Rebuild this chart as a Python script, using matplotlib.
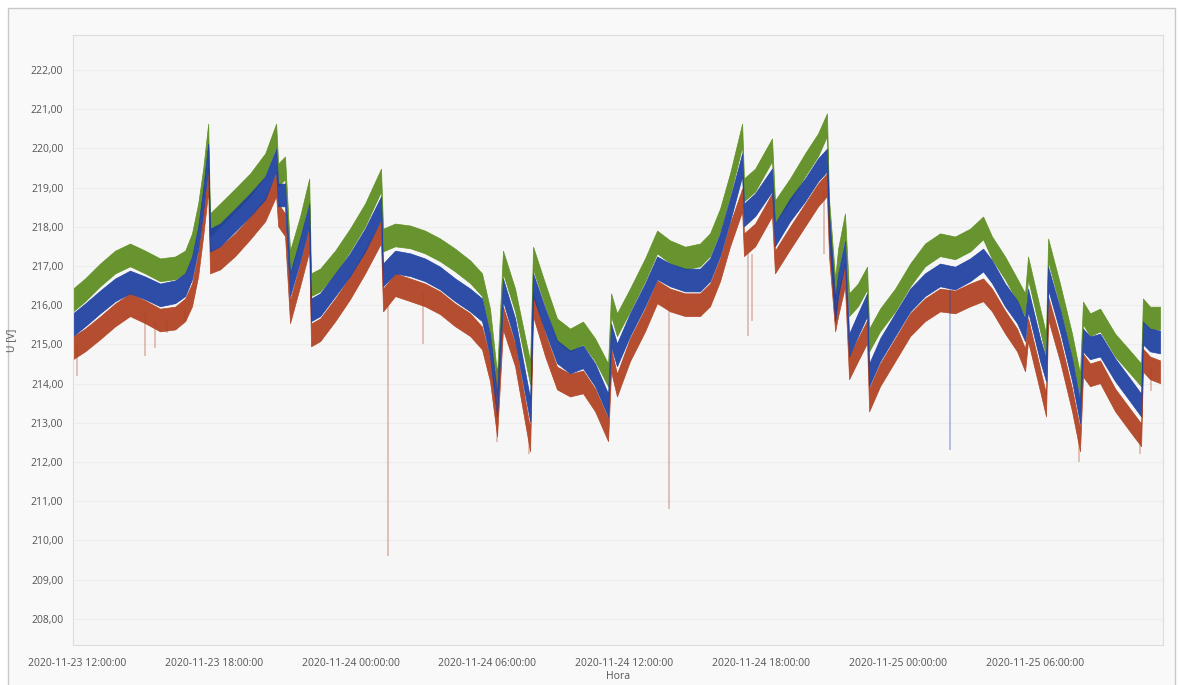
import matplotlib
matplotlib.use('Agg')
import numpy as np
import pandas as pd
import matplotlib.pyplot as plt
import matplotlib.dates as mdates
from matplotlib.patches import Rectangle
from matplotlib.ticker import FuncFormatter, MultipleLocator

# hours after 2020-11-23 12:00
hours = [-0.18, 0.35, 1.01, 1.67, 2.32, 2.98, 3.64, 4.30, 4.74, 5.04, 5.31, 5.53, 5.75, 5.83,
         6.27, 6.93, 7.59, 8.25, 8.73, 8.82, 9.12, 9.34, 9.78, 10.18, 10.26, 10.66, 11.32,
         11.97, 12.63, 13.33, 13.42, 13.95, 14.61, 15.26, 15.92, 16.58, 17.24, 17.76, 18.11,
         18.42, 18.68, 19.21, 19.87, 20.00, 20.53, 21.05, 21.62, 22.19, 22.72, 23.29, 23.42,
         23.68, 24.25, 24.91, 25.44, 26.01, 26.67, 27.32, 27.76, 28.20, 28.64, 29.17, 29.25,
         29.74, 30.48, 30.61, 31.27, 31.93, 32.50, 32.89, 32.98, 33.25, 33.38, 33.68, 33.86,
         34.25, 34.65, 34.74, 35.22, 35.88, 36.54, 37.19, 37.85, 38.51, 39.17, 39.74, 40.13,
         40.70, 41.23, 41.58, 41.71, 42.24, 42.50, 42.59, 43.11, 43.64, 43.99, 44.12, 44.43,
         44.87, 45.53, 46.18, 46.67, 46.75, 47.06, 47.50]

u_green = [216.13, 216.39, 216.77, 217.10, 217.28, 217.10, 216.90, 216.95, 217.10, 217.54, 218.30,
           219.19, 220.34, 218.05, 218.30, 218.68, 219.07, 219.58, 220.34, 219.32, 219.50, 217.10,
           217.97, 218.94, 216.52, 216.64, 217.10, 217.66, 218.30, 219.19, 217.66, 217.79, 217.74,
           217.61, 217.41, 217.15, 216.85, 216.52, 215.62, 213.96, 217.10, 216.13, 214.27, 217.20,
           216.26, 215.37, 215.11, 215.29, 214.86, 214.22, 216.01, 215.50, 216.13, 216.90, 217.61,
           217.36, 217.20, 217.28, 217.54, 218.17, 219.07, 220.34, 218.94, 219.19, 219.96, 218.38,
           218.94, 219.58, 220.09, 220.60, 218.43, 216.39, 217.15, 218.05, 216.01, 216.26, 216.69,
           215.11, 215.62, 216.13, 216.77, 217.28, 217.54, 217.46, 217.66, 217.97, 217.46, 216.95,
           216.39, 216.01, 216.95, 215.62, 214.98, 217.41, 216.26, 214.98, 213.96, 215.80, 215.50,
           215.62, 214.98, 214.55, 214.22, 215.88, 215.67, 215.67]

u_blue = [215.50, 215.75, 216.08, 216.39, 216.59, 216.44, 216.26, 216.34, 216.52, 216.95, 217.71,
          218.68, 219.83, 217.66, 217.79, 218.17, 218.56, 218.99, 219.70, 218.81, 218.81, 216.52,
          217.41, 218.30, 215.88, 216.01, 216.52, 217.03, 217.66, 218.48, 216.77, 217.10, 217.03,
          216.90, 216.69, 216.39, 216.13, 215.88, 214.98, 213.45, 216.39, 215.37, 213.33, 216.52,
          215.62, 214.81, 214.55, 214.68, 214.22, 213.45, 215.24, 214.73, 215.50, 216.26, 216.95,
          216.77, 216.64, 216.64, 216.90, 217.54, 218.43, 219.58, 218.30, 218.56, 219.19, 217.79,
          218.43, 218.94, 219.45, 219.70, 218.05, 215.88, 216.52, 217.36, 214.98, 215.50, 216.01,
          214.22, 214.86, 215.50, 216.13, 216.52, 216.77, 216.69, 216.90, 217.15, 216.85, 216.26,
          215.83, 215.37, 216.13, 214.86, 214.35, 216.69, 215.62, 214.35, 213.28, 215.11, 214.91,
          214.98, 214.35, 213.84, 213.45, 215.29, 215.11, 215.06]

u_red = [214.91, 215.11, 215.42, 215.75, 216.01, 215.83, 215.62, 215.67, 215.88, 216.26, 217.03,
         218.05, 219.19, 217.10, 217.20, 217.54, 217.97, 218.43, 219.07, 218.30, 218.05, 215.83,
         216.77, 217.66, 215.24, 215.37, 215.88, 216.44, 217.10, 217.87, 216.13, 216.52, 216.39,
         216.26, 216.06, 215.75, 215.50, 215.16, 214.35, 212.94, 215.67, 214.73, 212.56, 216.01,
         214.98, 214.14, 213.96, 214.04, 213.58, 212.82, 214.60, 213.96, 214.86, 215.62, 216.34,
         216.13, 216.01, 216.01, 216.26, 216.90, 217.79, 218.68, 217.54, 217.79, 218.56, 217.10,
         217.71, 218.30, 218.81, 219.07, 217.54, 215.62, 216.01, 216.77, 214.40, 214.86, 215.32,
         213.58, 214.22, 214.86, 215.50, 215.88, 216.13, 216.08, 216.26, 216.39, 216.13, 215.57,
         215.11, 214.60, 215.37, 214.09, 213.45, 215.93, 214.86, 213.58, 212.56, 214.47, 214.22,
         214.30, 213.58, 213.07, 212.69, 214.60, 214.40, 214.30]

# short dips below the traces: hour, top, bottom, series
spike_hours = [0.00, 2.98, 3.42, 3.95, 4.74, 13.64, 15.18, 18.40, 19.80, 25.96, 29.44,
               29.60, 32.76, 38.29, 43.95, 46.60, 47.10]
spike_top = [215.0, 215.8, 215.6, 215.6, 215.9, 216.0, 216.3, 214.4, 212.6, 216.1, 217.3,
             217.3, 218.9, 216.4, 212.6, 212.8, 214.4]
spike_low = [214.2, 214.7, 214.9, 215.3, 215.6, 209.6, 215.0, 212.5, 212.2, 210.8, 215.2,
             215.6, 217.3, 212.3, 212.0, 212.2, 213.8]
spike_series = ['r', 'r', 'r', 'r', 'r', 'r', 'r', 'r', 'r', 'r', 'r', 'r', 'r', 'b', 'r', 'r', 'r']

colors = {'g': '#5c8c1e', 'b': '#1c3fa0', 'r': '#b0401f'}
half = 0.29

start = pd.Timestamp('2020-11-23 12:00')
t = start + pd.to_timedelta(hours, unit='h')
ts = start + pd.to_timedelta(spike_hours, unit='h')

fig = plt.figure(figsize=(11.78, 6.85), dpi=100)
fig.patch.set_facecolor('white')
frame = Rectangle((8 / 1178, -0.01), 1167 / 1178, 1 - 8 / 685 + 0.01,
                  transform=fig.transFigure, facecolor='#f9f9f9',
                  edgecolor='#c8c8c8', lw=1.0, zorder=-10)
fig.patches.append(frame)

ax = fig.add_axes([73 / 1178, 1 - 645 / 685, 1090 / 1178, 610 / 685])
ax.set_facecolor('#f6f6f6')

for key, vals in [('g', u_green), ('r', u_red), ('b', u_blue)]:
    v = np.array(vals)
    ax.fill_between(t, v - half, v + half, color=colors[key], lw=0.5,
                    edgecolor=colors[key], alpha=0.92)

for x, top, low, s in zip(ts, spike_top, spike_low, spike_series):
    ax.vlines(x, low, top, color=colors[s], alpha=0.35, lw=1.2)

ax.set_xlim(start - pd.Timedelta(hours=0.18), start + pd.Timedelta(hours=47.63))
ax.set_ylim(207.33, 222.89)

ax.yaxis.set_major_locator(MultipleLocator(1))
ax.yaxis.set_major_formatter(FuncFormatter(lambda v, p: f'{v:.2f}'.replace('.', ',')))
ax.xaxis.set_major_locator(mdates.HourLocator(byhour=[0, 6, 12, 18]))
ax.xaxis.set_major_formatter(mdates.DateFormatter('%Y-%m-%d %H:%M:%S'))

ax.grid(axis='y', color='#ededed', lw=0.8)
ax.set_axisbelow(True)
for sp in ax.spines.values():
    sp.set_color('#dddddd')
ax.tick_params(length=0, labelsize=7.5, labelcolor='#555555')
ax.tick_params(axis='y', pad=7)
ax.tick_params(axis='x', pad=9)
for lab in ax.get_xticklabels() + ax.get_yticklabels():
    lab.set_family('Open Sans')

ax.set_xlabel('Hora', fontsize=7.5, color='#555555', family='Open Sans', labelpad=2)
ax.set_ylabel('U [V]', fontsize=7.5, color='#555555', family='Open Sans', labelpad=10)

fig.savefig('out.png', dpi=100)
